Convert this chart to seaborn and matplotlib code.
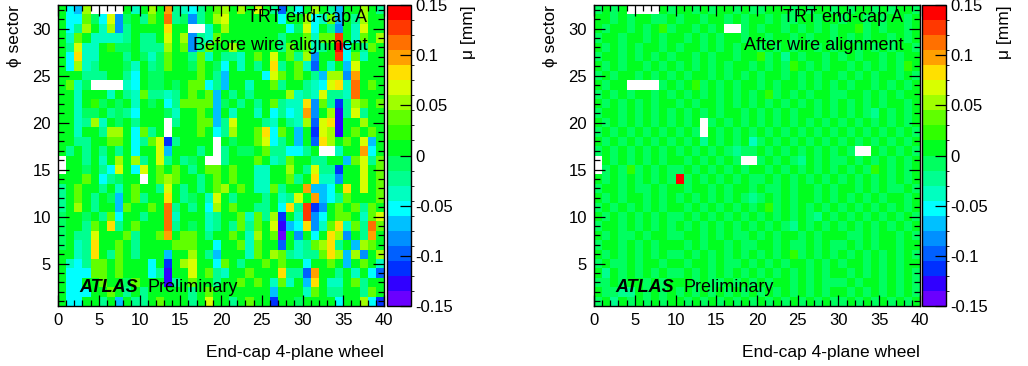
import numpy as np
import pandas as pd
import matplotlib
matplotlib.use("Agg")
import matplotlib.pyplot as plt
from matplotlib.colors import ListedColormap, BoundaryNorm
from matplotlib.ticker import FixedLocator
import seaborn as sns

# ---------------- data ----------------
wheels = list(range(40))                 # x bins 0..39
sectors_top_first = list(range(32, 0, -1))  # phi sectors, top row first

# colour-level codes: '0'..'9','A'..'J' = 20 palette levels (-0.15 .. 0.15), '.' = empty
CODES = "0123456789ABCDEFGHIJ"
level_edges = [-0.15, -0.135, -0.12, -0.105, -0.09, -0.075, -0.06, -0.045, -0.03, -0.015,
               0.0, 0.015, 0.03, 0.045, 0.06, 0.075, 0.09, 0.105, 0.12, 0.135, 0.15]
level_colors = ["#6a00ff", "#3000ff", "#0030ff", "#0060ff", "#0090ff", "#00c0ff", "#00ffff",
                "#00ffc0", "#00ff90", "#00ff60", "#00ff20", "#30ff00", "#60ff00", "#a0ff00",
                "#d8ff00", "#ffe000", "#ffa000", "#ff7000", "#ff3800", "#ff0000"]
cbar_ticks = [-0.15, -0.1, -0.05, 0.0, 0.05, 0.1, 0.15]
cbar_ticklabels = ["-0.15", "-0.1", "-0.05", "0", "0.05", "0.1", "0.15"]
x_major = [0, 5, 10, 15, 20, 25, 30, 35, 40]
y_major = [5, 10, 15, 20, 25, 30]

before_rows = [
    "A65D....A7ADAG" + "8768ACDADAEA8" + "396ADA85AADA8",  # 32
    "A66C96E49A8CAH" + "8948ADEAAAAAA" + "6AAD67C5A8DAA",  # 31
    "A68DA7D48AAAAF" + "AA..7ADAAAAAA" + "A69E6A84A7EAA",  # 30
    "A7CA77778A88AE" + "AD487CAAAAAAA" + "8AAC7CCIA7CAD",  # 29
    "A8E77AB99A888D" + "AC48CAADAAAAA" + "8CAC78AJ6A8CA",  # 28
    "A6F77AAA8A979C" + "AA8C7A887ACAE" + "AC8D4AAI6C7AA",  # 27
    "A6D78AAA97A89C" + "AA9CA96A7A8AF" + "8AC73A7A5EAAA",  # 26
    "AAA888AA86A99A" + "AAACA85AAAA6E" + "CACA85DD4GAAA",  # 25
    "AC79....76A99A" + "9ACC685AA7AAC" + "8AA876EF7HACA",  # 24
    "AA7AAA7A87C887" + "8ACAC5A8A8AAA" + "AD787E887HAAA",  # 23
    "AA7AB9A9A7A9A6" + "8CCCC59A8A8AC" + "877F4C828DCAC",  # 22
    "AA799A8986AAA9" + "7AACA5A7AA7A6" + "867G4AD18E8AA",  # 21
    "AA78D7A9A8AAA." + "8AACC58EAAA87" + "A87D3EF1AADAA",  # 20
    "AA7AA8DDA6C8A." + "AAACA68DAACF6" + "CA5A2ED1ACACA",  # 19
    "AA88AACCA68CE2" + "8AAAA.A9AACE6" + "8A5A3FDACAE5A",  # 18
    "A8A8A8A8A6AAE5" + "AAA8A.8A99AC8" + "8668A..7AAG6A",  # 17
    ".AA8A7ADAD8AE8" + "A89A..8AAACA7" + "8CAA88AA5CE8C",  # 16
    ".AA9A86EA6EACA" + "CA8ACCACAA77A" + "ADA8E882AAEAC",  # 15
    "AAACA689AA.ACD" + "CAA8ACACAA77A" + "AC8AF774AAEAC",  # 14
    "8ACAA8A7ACAA8E" + "A8A8ACDACA77C" + "8AAG556AFAEAC",  # 13
    "8ACA8A95AC8AAF" + "A89A7EA8AAA8A" + "78EAG568CAAAC",  # 12
    "8ADA8AA5CAACAH" + "8A8A6DACAA88A" + "6F8I24ACAC8CA",  # 11
    "9AA9A8C6AA8AAH" + "7AAA78AAC7C8D" + "2A7I46ACCA7CE",  # 10
    "9AA8CAF8ACAAAH" + "8A9A78A8C8CAE" + "156F47CF7C8HC",  # 9
    "9A88EAAAC8AACG" + "ACCA8AACA7DAC" + "0A4A6AFD4A8GA",  # 8
    "9A78FAACA8AAAA" + "CCCAA6AAC7CAA" + "3A78CDF8A5DCA",  # 7
    "AA78FA8CA8AAA5" + "AADA85AAA7CAD" + "C8788CFD5D4AD",  # 6
    "A768CCACAAA6A2" + "ADEAA6CA8AACA" + "CAA6AACA5ACA7",  # 5
    "A666CCACAAA681" + "AAEAC87AACAAA" + "F883GAA8A7A63",  # 4
    "A66AACAA9CAAA1" + "8ACAA8AACACA7" + "C7A5FA77AC8AA",  # 3
    "A666AACA8A8AAA" + "AA8ACAAAAAAA5" + "AAA7CA88AA8CA",  # 2
    "A66AA8A5A88ACA" + "AA8AEAA8ACAA2" + "AA9AAAA6AAD62",  # 1
]

after_rows = [
    "9A9A....A9" + "AA9A9AA9A9" + "9AAA9A9AA9" + "A9AA9A9AA9",  # 32
    "AA9A9AA99A" + "9AA9AA9A9A" + "A9A99AA9AA" + "9AA9A9AA9A",  # 31
    "A9AA9A9AB9" + "AA9A9A..9A" + "9AA9A9A9A9" + "AAB9A9AA9A",  # 30
    "9AA9AA9A9A" + "A9A9A9AA9A" + "A9AA9A9AA9" + "A9A9AA9A9A",  # 29
    "A9A9A9AA9A" + "9AA9A9A9AA" + "9A9A9AA9A9" + "AA9A9A9AA9",  # 28
    "9AA9A9A9A9" + "AA9A9AA9AA" + "B9A8A9AA9A" + "9A9AA9A9AA",  # 27
    "A9A9AA9A9A" + "9A9A9A9AA9" + "A9A9BA9A9A" + "A9A9A9A9BA",  # 26
    "9A9AA9A9A9" + "A9AA9A9A9A" + "9AA9A9A9AA" + "9A9A9AA9A9",  # 25
    "A9AA....9A" + "9AB9A9A9AA" + "9A9AA9A9A9" + "A9AA9A9A9A",  # 24
    "9A9A9AA9A9" + "A9A9A9A9A9" + "AB9A9A9AA9" + "9AA9A9A9AA",  # 23
    "A9A9A9A9AA" + "9A9AA9A9A9" + "A9A9A9A9A9" + "A9A9A9AA9A",  # 22
    "9AA9A9A9A9" + "A9A9A9AA9A" + "9A9A9AA9A9" + "A9A98A9A9A",  # 21
    "A9A9A9A9A9" + "A9A.9A9A9A" + "9A9A9A9A9A" + "9A9A9A9A9A",  # 20
    "9A9A9A9A9A" + "9A9.A9A9A9" + "A9A9A9A9A9" + "A9A9A9A9A9",  # 19
    "A9A9A9A9A9" + "A9A8A9A9A7" + "9A9A9A9A9A" + "9A9A9A9A9A",  # 18
    "9A9A9A9A9A" + "9A9A9A9899" + "A9A9A9A9A9" + "A9..A9A9A9",  # 17
    ".A9A9A9A9A" + "A9A9A9A9.." + "9A9A98A9A9" + "9A9A9A9A9A",  # 16
    ".9A9B9A9A9" + "9A9A9A9A9A" + "A9A9A9A9A9" + "A9A9BA9A9A",  # 15
    "A9A9A9A9A9" + "J9A9A9A9A9" + "9A9A9A9A9A" + "9A9A9A9A9A",  # 14
    "9AA9A99A9A" + "A9AA9A9AA9" + "A99A9AA9A9" + "AA9A9A99A9",  # 13
    "A9A9AA9A9A" + "9A9A9A9A98" + "9A9A9AA9A9" + "A9A9A9AA9A",  # 12
    "9A9A9A9A9A" + "A9A9A9A9A9" + "AB9A9A9A9A" + "9A9A9A9A9A",  # 11
    "A9A9A9A9A9" + "9A9A9A9A9A" + "9A9A9A98A9" + "A9A9A9A9A9",  # 10
    "9AA9A9A9A9" + "A9A9A9A9A9" + "A9A98A9A9A" + "9A9A9A9A9A",  # 9
    "A9A99A9AA9" + "9AA9A9A99A" + "9A9AA9A9AA" + "A99A9AA9A9",  # 8
    "9AA9A9A9AA" + "A9A9AA9A99" + "AA9A99A9A9" + "9A9A9AA9AA",  # 7
    "A9A9A9A9A9" + "9A9A9A9A9A" + "9A9AB9A9A9" + "A9A9A9A9A9",  # 6
    "9A99A9AA9A" + "A9AA9A99A9" + "A9A9AA9A9A" + "9AA9A9A9AA",  # 5
    "A8A9A9A9A9" + "9A9A9A9A9A" + "9A9A9A9A9A" + "A9A9A9A9A9",  # 4
    "99A9AA9A9A" + "AA9A99A9A9" + "A9AA9A9A99" + "9A9AA9A9A9",  # 3
    "A9988A9A9A" + "9A9A9A9A9A" + "9A9A9A9A9A" + "A9A9A9A9A9",  # 2
    "9A8A9A9A9A" + "A9A9A9A9A9" + "A9A9A9A9A9" + "9A9A9A9A9A",  # 1
]

# ---------------- helpers ----------------
def decode(rows):
    out = []
    for i, r in enumerate(rows):
        if len(r) != len(wheels):
            raise ValueError(f"row {i} has length {len(r)}")
        vals = []
        for ch in r:
            if ch == ".":
                vals.append(np.nan)
            else:
                k = CODES.index(ch)
                vals.append(0.5 * (level_edges[k] + level_edges[k + 1]))
        out.append(vals)
    return pd.DataFrame(out, index=sectors_top_first, columns=wheels)


sns.set_style("ticks")
plt.rcParams["font.family"] = ["Liberation Sans", "DejaVu Sans"]
for key in ["text.color", "axes.labelcolor", "xtick.color", "ytick.color", "axes.edgecolor"]:
    plt.rcParams[key] = "black"
plt.rcParams["axes.axisbelow"] = False

cmap = ListedColormap(level_colors)
cmap.set_bad("white")
norm = BoundaryNorm(level_edges, cmap.N)

W, H = 1028, 366
fig = plt.figure(figsize=(W / 100, H / 100), dpi=100)


def fx(px):
    return px / W


def fy(py):
    return 1 - py / H


ax_top, ax_bot = 5, 306
panels = [
    dict(rows=before_rows, ax_l=58, cb_l=387, sub="Before wire alignment", ylab_x=15, mu_x=468),
    dict(rows=after_rows, ax_l=594, cb_l=922, sub="After wire alignment", ylab_x=551, mu_x=1004),
]

for p in panels:
    ax = fig.add_axes([fx(p["ax_l"]), fy(ax_bot), fx(326), (ax_bot - ax_top) / H])
    cax = fig.add_axes([fx(p["cb_l"]), fy(ax_bot), fx(24), (ax_bot - ax_top) / H])
    df = decode(p["rows"])
    sns.heatmap(df, ax=ax, cmap=cmap, norm=norm, cbar_ax=cax,
                xticklabels=False, yticklabels=False,
                cbar_kws={"ticks": cbar_ticks})
    ax.set_facecolor("white")
    ax.set_axisbelow(False)
    for s in ax.spines.values():
        s.set_visible(True)
        s.set_color("black")
        s.set_linewidth(1.0)
        s.set_zorder(5)

    idx = list(df.index)
    ax.xaxis.set_major_locator(FixedLocator(x_major))
    ax.xaxis.set_minor_locator(FixedLocator(list(range(0, 41))))
    ax.set_xticklabels([str(v) for v in x_major])
    ax.yaxis.set_major_locator(FixedLocator([idx.index(v) + 0.5 for v in y_major]))
    ax.yaxis.set_minor_locator(FixedLocator([i + 0.5 for i in range(len(idx))]))
    ax.set_yticklabels([str(v) for v in y_major], rotation=0)
    ax.tick_params(which="both", direction="in", top=True, right=True, bottom=True, left=True,
                   color="black", width=0.9, zorder=6)
    ax.tick_params(which="major", length=8, labelsize=12, pad=5, labelcolor="black")
    ax.tick_params(which="minor", length=4)
    ax.set_xlabel("")
    ax.set_ylabel("")

    cb = ax.collections[0].colorbar
    cb.outline.set_linewidth(1.0)
    cb.outline.set_edgecolor("black")
    cb.set_ticks(cbar_ticks)
    cb.set_ticklabels(cbar_ticklabels)
    cax.set_axisbelow(False)
    cax.tick_params(direction="in", length=8, width=0.9, right=True, left=False,
                    labelsize=12, pad=3, color="black", labelcolor="black")

    ax.text(0.948, 0.960, "TRT end-cap A", transform=ax.transAxes, ha="right", va="center",
            fontsize=13, color="black")
    ax.text(0.948, 0.864, p["sub"], transform=ax.transAxes, ha="right", va="center",
            fontsize=13, color="black")
    ax.text(0.066, 0.063, "ATLAS", transform=ax.transAxes, ha="left", va="center",
            fontsize=13, fontweight="bold", fontstyle="italic", color="black")
    ax.text(0.274, 0.063, "Preliminary", transform=ax.transAxes, ha="left", va="center",
            fontsize=13, color="black")

    fig.text(fx(p["ax_l"] + 326), fy(352), "End-cap 4-plane wheel", ha="right", va="center",
             fontsize=12.5, color="black")
    fig.text(fx(p["ylab_x"]), fy(5), "ϕ sector", rotation=90, ha="center", va="top",
             fontsize=12.5, color="black")
    fig.text(fx(p["mu_x"]), fy(5), "μ [mm]", rotation=90, ha="center", va="top",
             fontsize=12.5, color="black")

fig.savefig("out.png", dpi=100)
